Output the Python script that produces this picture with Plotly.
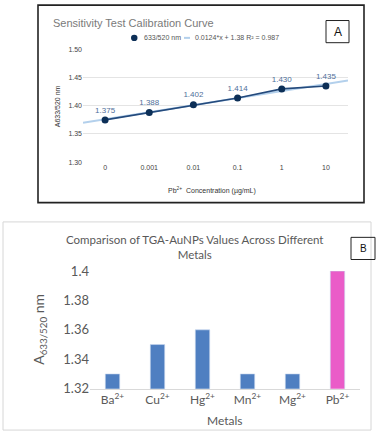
import plotly.graph_objects as go
import numpy as np

W, H = 383, 440

# Panel A data
conc_labels = ["0", "0.001", "0.01", "0.1", "1", "10"]
ratio_values = [1.375, 1.388, 1.402, 1.414, 1.430, 1.435]
trend_label = "0.0124*x + 1.38 R² = 0.987"

# Panel B data
metals = ["Ba<sup>2+</sup>", "Cu<sup>2+</sup>", "Hg<sup>2+</sup>",
          "Mn<sup>2+</sup>", "Mg<sup>2+</sup>", "Pb<sup>2+</sup>"]
metal_values = [1.33, 1.35, 1.36, 1.33, 1.33, 1.40]
metal_colors = ["#4f7fc1", "#4f7fc1", "#4f7fc1", "#4f7fc1", "#4f7fc1", "#ea5cc8"]


def px(x):
    return x / W


def py(y):
    return 1 - y / H


idx = np.arange(len(ratio_values))
# linear trendline fitted on the data (1-based positions like the sheet)
slope, icpt = np.polyfit(idx + 1, ratio_values, 1)
trend_x = np.array([-0.5, len(idx) - 0.5])
trend_y = slope * (trend_x + 1) + icpt

fig = go.Figure()

fig.add_trace(go.Scatter(
    x=trend_x, y=trend_y, mode="lines",
    line=dict(color="#b3d0ec", width=2),
    xaxis="x", yaxis="y", hoverinfo="skip"
))

fig.add_trace(go.Scatter(
    x=idx, y=ratio_values, mode="lines+markers+text",
    text=[f"{v:.3f}" for v in ratio_values],
    textposition="top center",
    textfont=dict(size=8, color="#4f6f9a", family="Liberation Sans"),
    line=dict(color="#244a7c", width=1.6),
    marker=dict(color="#0c2f57", size=7),
    xaxis="x", yaxis="y"
))

fig.add_trace(go.Bar(
    x=list(range(len(metals))), y=metal_values,
    marker=dict(color=metal_colors, line=dict(color="#c9d8ee", width=0.6)),
    width=0.32,
    xaxis="x2", yaxis="y2"
))

ann = []
shapes = []

# Panel A frame and label box
shapes.append(dict(type="rect", xref="paper", yref="paper",
                   x0=px(38), x1=px(364), y0=py(202), y1=py(-3),
                   line=dict(color="#222222", width=1.6)))
shapes.append(dict(type="rect", xref="paper", yref="paper",
                   x0=px(326), x1=px(349), y0=py(36), y1=py(13),
                   line=dict(color="#222222", width=1)))
ann.append(dict(text="A", x=px(337.5), y=py(24.5), xref="paper", yref="paper",
                showarrow=False, xanchor="center", yanchor="middle",
                font=dict(size=12, color="#111111", family="Liberation Sans")))
ann.append(dict(text="Sensitivity Test Calibration Curve", x=px(51), y=py(16),
                xref="paper", yref="paper", showarrow=False,
                xanchor="left", yanchor="middle",
                font=dict(size=11, color="#7a7a7a", family="Liberation Sans")))

# legend, drawn by hand
shapes.append(dict(type="circle", xref="paper", yref="paper",
                   x0=px(131), x1=px(137.5), y0=py(34.3), y1=py(27.8),
                   fillcolor="#0c2f57", line=dict(width=0)))
shapes.append(dict(type="line", xref="paper", yref="paper",
                   x0=px(184), x1=px(190), y0=py(31), y1=py(31),
                   line=dict(color="#b3d0ec", width=2)))
ann.append(dict(text="633/520 nm", x=px(142), y=py(31), xref="paper", yref="paper",
                showarrow=False, xanchor="left", yanchor="middle",
                font=dict(size=7, color="#555555", family="Liberation Sans")))
ann.append(dict(text=trend_label, x=px(193), y=py(31), xref="paper", yref="paper",
                showarrow=False, xanchor="left", yanchor="middle",
                font=dict(size=7, color="#555555", family="Liberation Sans")))
ann.append(dict(text="A633/520 nm", x=px(57), y=py(102), xref="paper", yref="paper",
                showarrow=False, textangle=-90, xanchor="center", yanchor="middle",
                font=dict(size=7, color="#333333", family="Liberation Sans")))
ann.append(dict(text="Pb<sup>2+</sup>  Concentration (µg/mL)", x=px(212), y=py(189),
                xref="paper", yref="paper", showarrow=False,
                xanchor="center", yanchor="middle",
                font=dict(size=7, color="#333333", family="Liberation Sans")))

# Panel B frame and label box
shapes.append(dict(type="rect", xref="paper", yref="paper",
                   x0=px(3), x1=px(371), y0=py(438), y1=py(222),
                   line=dict(color="#d6d6d6", width=1)))
shapes.append(dict(type="rect", xref="paper", yref="paper",
                   x0=px(351), x1=px(375), y0=py(261), y1=py(238),
                   line=dict(color="#222222", width=1)))
ann.append(dict(text="B", x=px(363), y=py(249.5), xref="paper", yref="paper",
                showarrow=False, xanchor="center", yanchor="middle",
                font=dict(size=10, color="#111111", family="Liberation Sans")))
ann.append(dict(text="Comparison of TGA-AuNPs Values Across Different<br>Metals",
                x=px(194), y=py(247.5), xref="paper", yref="paper", showarrow=False,
                xanchor="center", yanchor="middle",
                font=dict(size=11.5, color="#595959", family="Lato")))
ann.append(dict(text="A<sub>633/520</sub> nm", x=px(40), y=py(334), xref="paper",
                yref="paper", showarrow=False, textangle=-90,
                xanchor="center", yanchor="middle",
                font=dict(size=14, color="#595959", family="Lato")))
ann.append(dict(text="Metals", x=px(225), y=py(428), xref="paper", yref="paper",
                showarrow=False, xanchor="center", yanchor="middle",
                font=dict(size=12, color="#595959", family="Lato")))

fig.update_layout(
    width=W, height=H,
    margin=dict(l=0, r=0, t=0, b=0),
    paper_bgcolor="white", plot_bgcolor="white",
    showlegend=False,
    shapes=shapes, annotations=ann,
    xaxis=dict(domain=[px(83), px(348)], range=[-0.5, 5.5],
               tickvals=list(idx), ticktext=conc_labels,
               showgrid=False, zeroline=False, showline=False, ticks="",
               tickfont=dict(size=7, color="#444444", family="Liberation Sans"),
               anchor="y"),
    yaxis=dict(domain=[py(160), py(43)], range=[1.30, 1.50],
               tickvals=[1.30, 1.35, 1.40, 1.45, 1.50],
               ticktext=["1.30", "1.35", "1.40", "1.45", "1.50"],
               showgrid=True, gridcolor="#e4e4e4", gridwidth=1,
               zeroline=False, showline=False, ticks="",
               tickfont=dict(size=7, color="#444444", family="Liberation Sans"),
               anchor="x"),
    xaxis2=dict(domain=[px(90), px(360)], range=[-0.5, 5.5],
                tickvals=list(range(len(metals))), ticktext=metals,
                showgrid=False, zeroline=False, showline=True,
                linecolor="#d9d9d9", linewidth=1, ticks="",
                tickfont=dict(size=12, color="#595959", family="Lato"),
                anchor="y2"),
    yaxis2=dict(domain=[py(395), py(273)], range=[1.32, 1.40],
                tickvals=[1.32, 1.34, 1.36, 1.38, 1.40],
                ticktext=["1.32", "1.34", "1.36", "1.38", "1.4"],
                showgrid=False, zeroline=False, showline=False, ticks="",
                tickfont=dict(size=13, color="#595959", family="Lato"),
                anchor="x2"),
)

# drop the default page margin so the figure fills the window
fig.write_html("out.html", config={"displayModeBar": False},
               post_script="document.body.style.margin='0';")
